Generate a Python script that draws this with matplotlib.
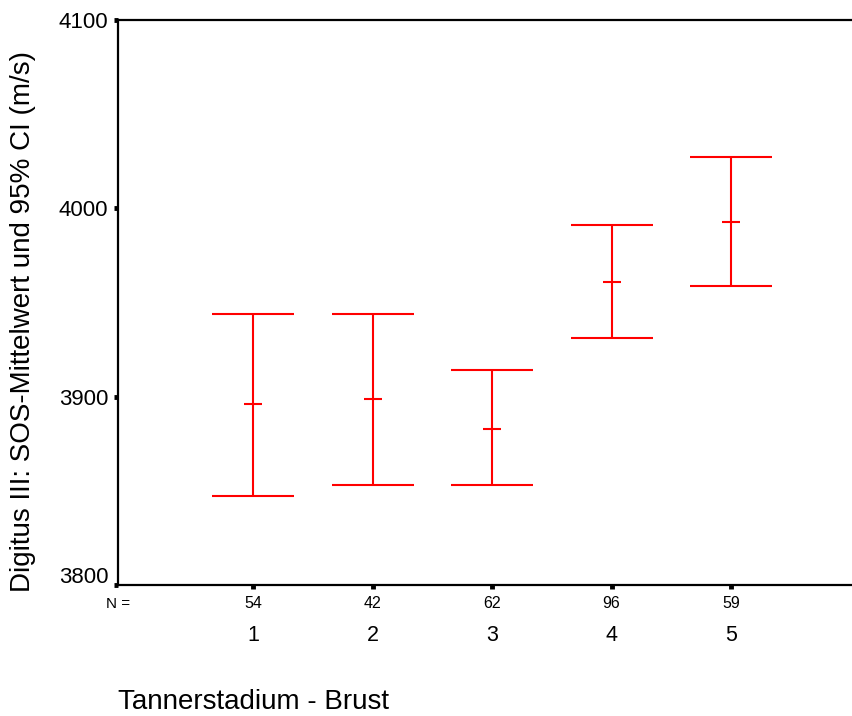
import matplotlib
matplotlib.use('Agg')
import matplotlib.pyplot as plt
import numpy as np
from matplotlib.transforms import blended_transform_factory, ScaledTranslation

plt.rcParams['font.family'] = ['Liberation Sans', 'DejaVu Sans']

# Tannerstadium, Fallzahlen und SOS-Werte (Mittelwert, 95%-KI)
stages = ['1', '2', '3', '4', '5']
n_vals = [54, 42, 62, 96, 59]
means = [3896, 3899, 3883, 3961, 3993]
ci_low = [3847, 3853, 3853, 3931, 3959]
ci_high = [3944, 3944, 3914, 3991, 4027]

x = np.arange(1, len(stages) + 1)
means = np.array(means)
err = np.array([means - np.array(ci_low), np.array(ci_high) - means])

fig = plt.figure(figsize=(8.53, 7.16), dpi=100)
ax = fig.add_axes([118 / 853, 1 - 585 / 716, 1 - 118 / 853, (585 - 20) / 716])

ax.errorbar(x, means, yerr=err, fmt='none', ecolor='red', elinewidth=1.5,
            capsize=29.5, capthick=1.5)
ax.plot(x, means, linestyle='none', marker='_', color='red', markersize=13, markeredgewidth=1.5)

ax.set_xlim(-0.13, 6.02)
ax.set_ylim(3800, 4100)
ax.set_yticks([3800, 3900, 4000, 4100])
ax.set_xticks(x)
ax.set_xticklabels(stages, fontsize=15.5)

for s in ['left', 'bottom', 'top']:
    ax.spines[s].set_linewidth(1.6)
ax.spines['right'].set_visible(False)
ax.tick_params(axis='y', direction='out', length=3, width=3.5, labelsize=16, pad=4)
ax.tick_params(axis='x', direction='out', length=3, width=3.5, pad=26)

# unterste Beschriftung etwas nach oben, wie im Original
lab0 = ax.get_yticklabels()[0]
lab0.set_transform(lab0.get_transform() + ScaledTranslation(0, 0.1, fig.dpi_scale_trans))

# Fallzahlen unter der Achse
tr = blended_transform_factory(ax.transData, ax.transAxes)
yN = (585 - 604) / 565
fig.text(118 / 853, 1 - 604 / 716, 'N =', ha='center', va='center', fontsize=11)
for xi, n in zip(x, n_vals):
    ax.text(xi, yN, str(n), transform=tr, ha='center', va='center', fontsize=11.5)

fig.text(118 / 853, 1 - 702 / 716, 'Tannerstadium - Brust', ha='left', va='center', fontsize=20)
fig.text(23 / 853, 1 - 322 / 716, 'Digitus III: SOS-Mittelwert und 95% CI (m/s)',
         rotation=90, ha='center', va='center', fontsize=20)

fig.savefig('out.png', dpi=100)
